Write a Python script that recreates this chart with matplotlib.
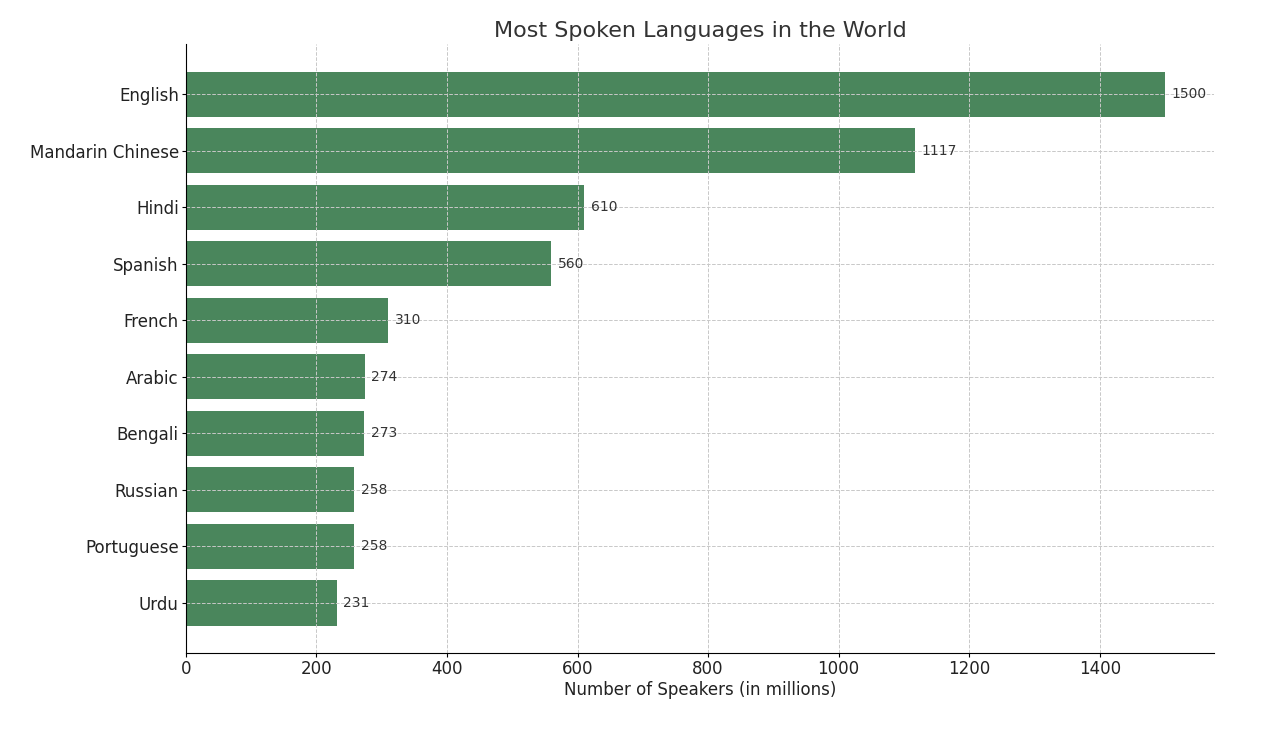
import matplotlib.pyplot as plt

languages = ["English", "Mandarin Chinese", "Hindi", "Spanish", "French",
             "Arabic", "Bengali", "Russian", "Portuguese", "Urdu"]
speakers = [1500, 1117, 610, 560, 310, 274, 273, 258, 258, 231]

fig = plt.figure(figsize=(12.64, 7.44), dpi=100)
ax = fig.add_axes([0.147, 0.122, 0.8135, 0.819])

bars = ax.barh(languages, speakers, color="#4a865c")
ax.invert_yaxis()

for bar, val in zip(bars, speakers):
    ax.text(bar.get_width() + 10, bar.get_y() + bar.get_height() / 2, str(val),
            va="center", ha="left", fontsize=10, color="#333333")

ax.set_title("Most Spoken Languages in the World", fontsize=16, color="#333333", pad=5)
ax.set_xlabel("Number of Speakers (in millions)", fontsize=12, color="#222222", labelpad=2)
ax.tick_params(labelsize=12, length=3, pad=2, labelcolor="#222222")
ax.grid(True, linestyle="--", color="#c8c8c8", linewidth=0.7)
ax.set_axisbelow(False)
for s in ["top", "right"]:
    ax.spines[s].set_visible(False)
for s in ["left", "bottom"]:
    ax.spines[s].set_zorder(5)

plt.savefig("out.png", dpi=100)
